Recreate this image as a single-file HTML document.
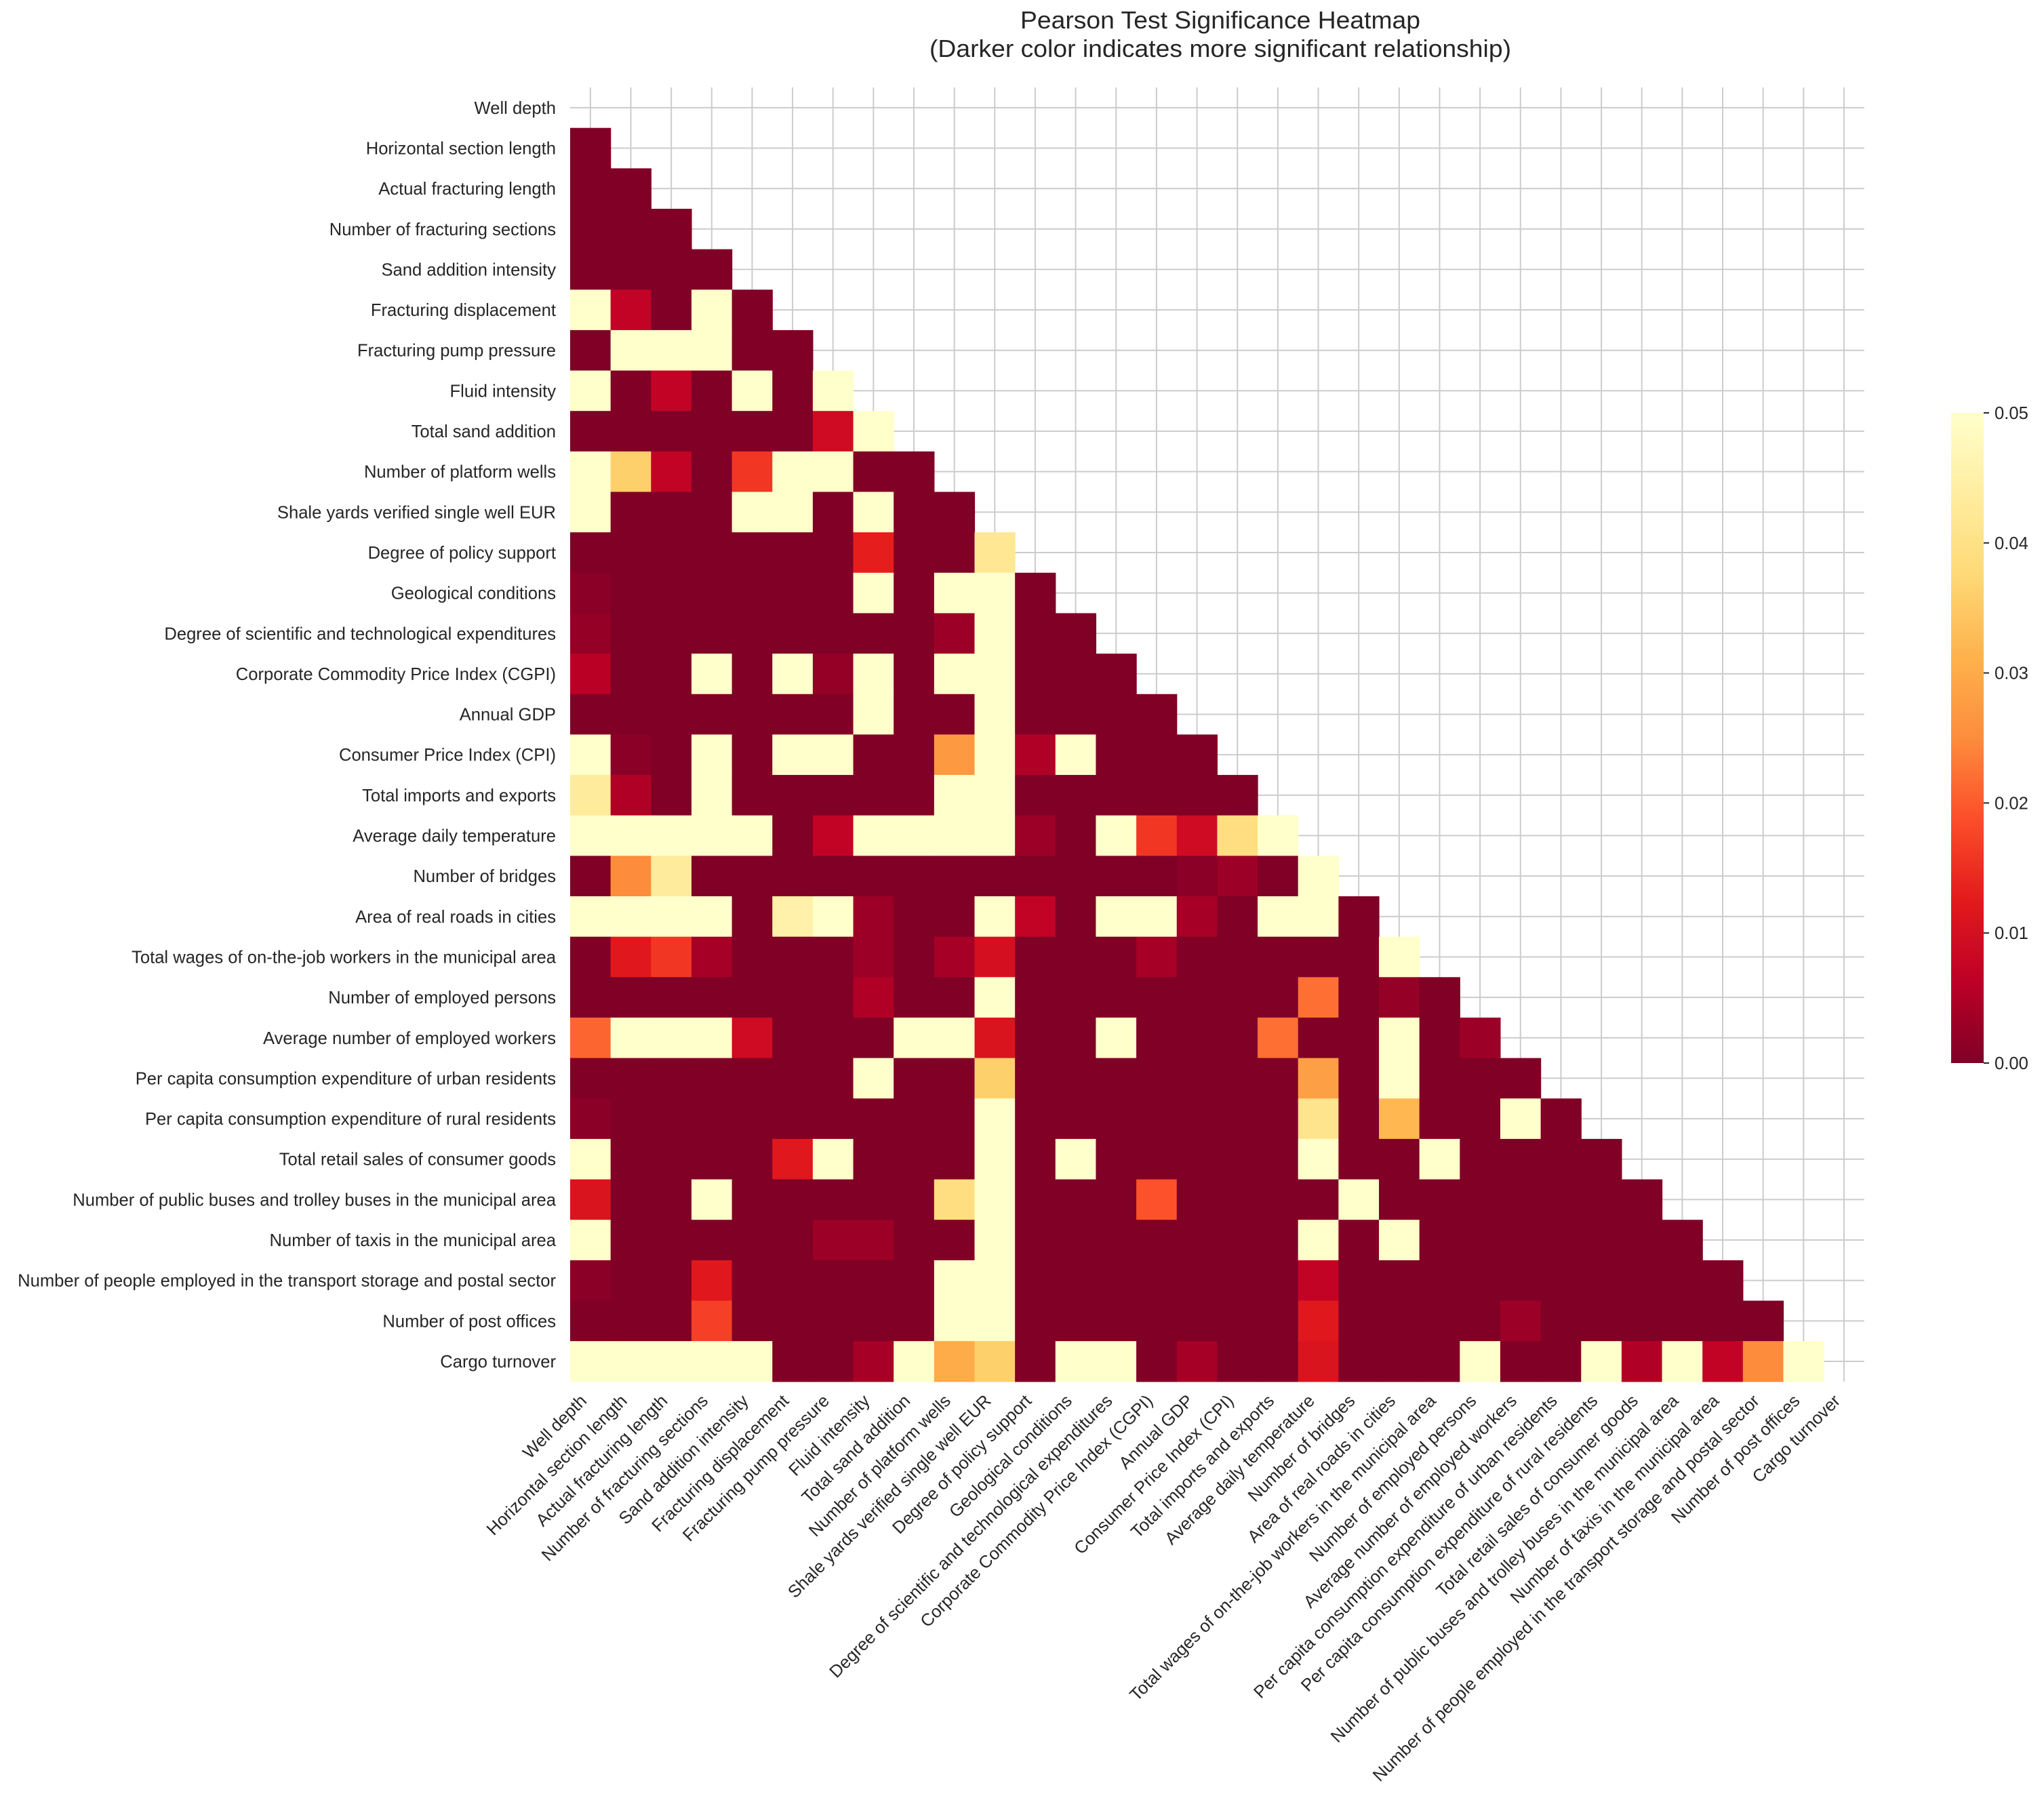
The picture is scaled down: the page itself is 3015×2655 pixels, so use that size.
<!DOCTYPE html>
<html>
<head>
<meta charset="utf-8">
<style>
html,body{margin:0;padding:0;background:#fff;}
svg{display:block;}
text{font-family:"Liberation Sans",Arial,sans-serif;fill:#262626;}
</style>
</head>
<body>
<svg id="chart" width="3015" height="2655" viewBox="0 0 3015 2655" xmlns="http://www.w3.org/2000/svg">
<rect x="0" y="0" width="3015" height="2655" fill="#ffffff"/>
<text x="1800" y="42" text-anchor="middle" font-size="36" textLength="590" lengthAdjust="spacingAndGlyphs">Pearson Test Significance Heatmap</text>
<text x="1800" y="84" text-anchor="middle" font-size="36" textLength="858" lengthAdjust="spacingAndGlyphs">(Darker color indicates more significant relationship)</text>
<g id="grid"></g>
<g id="cells"></g>
<g id="ylabels"></g>
<g id="xlabels"></g>
<defs>
<linearGradient id="cbgrad" x1="0" y1="1" x2="0" y2="0">
<stop offset="0" stop-color="#800026"/>
<stop offset="0.125" stop-color="#bd0026"/>
<stop offset="0.25" stop-color="#e31a1c"/>
<stop offset="0.375" stop-color="#fc4e2a"/>
<stop offset="0.5" stop-color="#fd8d3c"/>
<stop offset="0.625" stop-color="#feb24c"/>
<stop offset="0.75" stop-color="#fed976"/>
<stop offset="0.875" stop-color="#ffeda0"/>
<stop offset="1" stop-color="#ffffcc"/>
</linearGradient>
</defs>
<g id="colorbar"></g>
</svg>
<script>
const labels = ["Well depth","Horizontal section length","Actual fracturing length","Number of fracturing sections","Sand addition intensity","Fracturing displacement","Fracturing pump pressure","Fluid intensity","Total sand addition","Number of platform wells","Shale yards verified single well EUR","Degree of policy support","Geological conditions","Degree of scientific and technological expenditures","Corporate Commodity Price Index (CGPI)","Annual GDP","Consumer Price Index (CPI)","Total imports and exports","Average daily temperature","Number of bridges","Area of real roads in cities","Total wages of on-the-job workers in the municipal area","Number of employed persons","Average number of employed workers","Per capita consumption expenditure of urban residents","Per capita consumption expenditure of rural residents","Total retail sales of consumer goods","Number of public buses and trolley buses in the municipal area","Number of taxis in the municipal area","Number of people employed in the transport storage and postal sector","Number of post offices","Cargo turnover"];
// lower-triangle p-values, row i has columns 0..i-1
const pvalues = [
[],
[0],
[0,0],
[0,0,0],
[0,0,0,0],
[0.06,0.007,0,0.06,0],
[0,0.06,0.06,0.06,0,0],
[0.06,0,0.007,0,0.06,0,0.06],
[0,0,0,0,0,0,0.009,0.06],
[0.06,0.036,0.007,0,0.016,0.06,0.06,0,0],
[0.06,0,0,0,0.06,0.06,0,0.06,0,0],
[0,0,0,0,0,0,0,0.013,0,0,0.042],
[0.001,0,0,0,0,0,0,0.06,0,0.06,0.06,0],
[0.002,0,0,0,0,0,0,0,0,0.003,0.06,0,0],
[0.006,0,0,0.06,0,0.06,0.002,0.06,0,0.06,0.06,0,0,0],
[0,0,0,0,0,0,0,0.06,0,0,0.06,0,0,0,0],
[0.06,0.001,0,0.06,0,0.06,0.06,0,0,0.027,0.06,0.005,0.06,0,0,0],
[0.043,0.005,0,0.06,0,0,0,0,0,0.06,0.06,0,0,0,0,0,0],
[0.06,0.06,0.06,0.06,0.06,0,0.007,0.06,0.06,0.06,0.06,0.003,0,0.06,0.016,0.009,0.039,0.06],
[0,0.025,0.043,0,0,0,0,0,0,0,0,0,0,0,0,0.001,0.003,0,0.06],
[0.06,0.06,0.06,0.06,0,0.045,0.06,0.003,0,0,0.06,0.007,0,0.06,0.06,0.004,0,0.06,0.06,0],
[0,0.012,0.016,0.004,0,0,0,0.003,0,0.004,0.01,0,0,0,0.004,0,0,0,0,0,0.06],
[0,0,0,0,0,0,0,0.005,0,0,0.06,0,0,0,0,0,0,0,0.022,0,0.002,0],
[0.021,0.06,0.06,0.06,0.009,0,0,0,0.06,0.06,0.011,0,0,0.06,0,0,0,0.022,0,0,0.06,0,0.003],
[0,0,0,0,0,0,0,0.06,0,0,0.036,0,0,0,0,0,0,0,0.028,0,0.06,0,0,0],
[0.001,0,0,0,0,0,0,0,0,0,0.06,0,0,0,0,0,0,0,0.041,0,0.032,0,0,0.06,0],
[0.06,0,0,0,0,0.012,0.06,0,0,0,0.06,0,0.06,0,0,0,0,0,0.06,0,0,0.06,0,0,0,0],
[0.011,0,0,0.06,0,0,0,0,0,0.039,0.06,0,0,0,0.019,0,0,0,0,0.06,0,0,0,0,0,0,0],
[0.06,0,0,0,0,0,0.003,0.003,0,0,0.06,0,0,0,0,0,0,0,0.06,0,0.06,0,0,0,0,0,0,0],
[0.001,0,0,0.012,0,0,0,0,0,0.06,0.06,0,0,0,0,0,0,0,0.007,0,0,0,0,0,0,0,0,0,0],
[0,0,0,0.017,0,0,0,0,0,0.06,0.06,0,0,0,0,0,0,0,0.012,0,0,0,0,0.003,0,0,0,0,0,0],
[0.06,0.06,0.06,0.06,0.06,0,0,0.004,0.06,0.03,0.036,0,0.06,0.06,0,0.004,0,0,0.011,0,0,0,0.06,0,0,0.06,0.005,0.06,0.007,0.025,0.06]
];
const cbTicks = [0, 0.01, 0.02, 0.03, 0.04, 0.05];
const cbTickLabels = ["0.00","0.01","0.02","0.03","0.04","0.05"];

const NS = "http://www.w3.org/2000/svg";
const X0 = 841, Y0 = 129, CELL = 59.65, N = labels.length;
const X1 = X0 + CELL * N, Y1 = Y0 + CELL * N;
const VMIN = 0, VMAX = 0.05;
const FS = 25.6;
const stops = ["#800026","#bd0026","#e31a1c","#fc4e2a","#fd8d3c","#feb24c","#fed976","#ffeda0","#ffffcc"];
function xPos(j){ return X0 + j * CELL; }
function yPos(i){ return Y0 + i * CELL; }
function hex(h){ return [parseInt(h.substr(1,2),16),parseInt(h.substr(3,2),16),parseInt(h.substr(5,2),16)]; }
function colorFor(v){
  let t = (v - VMIN) / (VMAX - VMIN);
  t = Math.max(0, Math.min(1, t));
  const p = t * (stops.length - 1);
  const k = Math.min(stops.length - 2, Math.floor(p));
  const f = p - k;
  const a = hex(stops[k]), b = hex(stops[k+1]);
  const c = a.map((x, idx) => Math.round(x + (b[idx] - x) * f));
  return "rgb(" + c.join(",") + ")";
}
function mk(tag, attrs){
  const e = document.createElementNS(NS, tag);
  for (const k in attrs) e.setAttribute(k, attrs[k]);
  return e;
}

const grid = document.getElementById("grid");
for (let k = 0; k < N; k++) {
  const gx = mk("line", {x1: xPos(k) + CELL/2, x2: xPos(k) + CELL/2, y1: Y0, y2: Y1, stroke: "#cccccc", "stroke-width": 2});
  
  
  grid.appendChild(gx);
  const gy = mk("line", {x1: X0, x2: X1, y1: yPos(k) + CELL/2, y2: yPos(k) + CELL/2, stroke: "#cccccc", "stroke-width": 2});
  
  
  grid.appendChild(gy);
}

const cells = document.getElementById("cells");
for (let i = 0; i < pvalues.length; i++) {
  for (let j = 0; j < pvalues[i].length; j++) {
    const r = mk("rect", {x: xPos(j).toFixed(2), y: yPos(i).toFixed(2), width: (CELL + 0.6).toFixed(2), height: (CELL + 0.6).toFixed(2), fill: colorFor(pvalues[i][j])});
    
    
    cells.appendChild(r);
  }
}

const yl = document.getElementById("ylabels");
for (let i = 0; i < N; i++) {
  const t = mk("text", {x: 820, y: yPos(i) + CELL/2 + 9, "text-anchor": "end", "font-size": FS});
  t.textContent = labels[i];
  
  
  yl.appendChild(t);
}

const xl = document.getElementById("xlabels");
for (let j = 0; j < N; j++) {
  const ax = xPos(j) + CELL/2 - 4, ay = Y1 + 30;
  const t = mk("text", {x: ax, y: ay, "text-anchor": "end", "font-size": FS, transform: "rotate(-45 " + ax + " " + ay + ")"});
  t.textContent = labels[j];
  
  
  xl.appendChild(t);
}

const cb = document.getElementById("colorbar");
const CBX = 2878, CBW = 48, CBT = 609, CBB = 1568;
function cbY(v){ return CBB - (v - VMIN) / (VMAX - VMIN) * (CBB - CBT); }
const bar = mk("rect", {x: CBX, y: CBT, width: CBW, height: CBB - CBT, fill: "url(#cbgrad)"});


cb.appendChild(bar);
for (let k = 0; k < cbTicks.length; k++) {
  const y = cbY(cbTicks[k]);
  const tk = mk("line", {x1: CBX + CBW, x2: CBX + CBW + 8, y1: y, y2: y, stroke: "#262626", "stroke-width": 2});
  
  
  cb.appendChild(tk);
  const t = mk("text", {x: CBX + CBW + 16, y: y + 9, "font-size": FS});
  t.textContent = cbTickLabels[k];
  
  
  cb.appendChild(t);
}
</script>
</body>
</html>
